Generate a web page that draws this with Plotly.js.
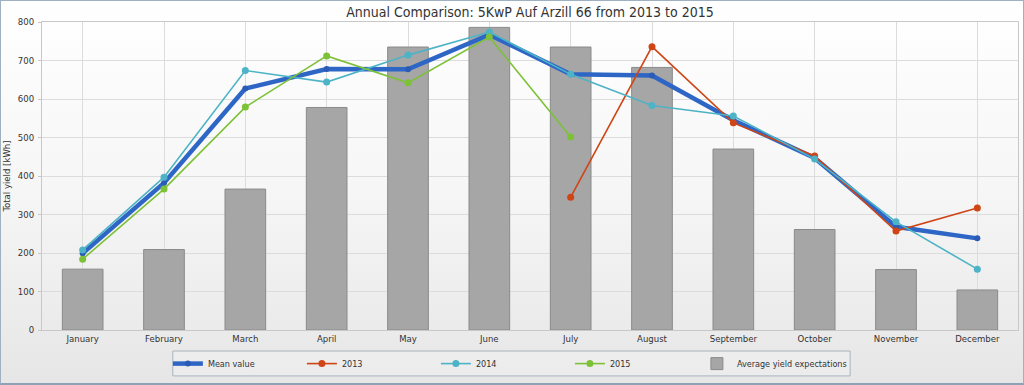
<!DOCTYPE html>
<html>
<head>
<meta charset="utf-8">
<script src="https://cdn.plot.ly/plotly-3.0.1.min.js"></script>
<style>
html,body{margin:0;padding:0;}
#wrap{width:1024px;height:385px;box-sizing:border-box;border:1px solid #9fb0c0;border-bottom:2px solid #8ea2b6;
background:linear-gradient(to bottom,#ffffff 0%,#f6f6f6 50%,#e6e6e6 100%);}
#chart{width:1022px;height:382px;}
</style>
</head>
<body>
<div id="wrap"><div id="chart"></div></div>
<script>
const months = ["January","February","March","April","May","June","July","August","September","October","November","December"];
const expectations = [158,209,366,578,735,786,735,682,470,261,157,104];
const meanValue = [199,382,627,678,677,767,664,661,545,447,268,238];
const y2013 = [null,null,null,null,null,null,345,736,538,452,257,317];
const y2014 = [208,397,674,644,714,774,664,583,556,444,281,158];
const y2015 = [184,366,579,712,642,761,501,null,null,null,null,null];

const font = "'DejaVu Sans Condensed', 'Liberation Sans Narrow', 'DejaVu Sans', sans-serif";

const traces = [
  {type:'scatter', mode:'lines+markers', name:'Mean value', x:months, y:meanValue,
   line:{color:'#2e66c6', width:4.5}, marker:{color:'#2a5bb5', size:6}, legend:'legend'},
  {type:'scatter', mode:'lines+markers', name:'2013', x:months, y:y2013,
   line:{color:'#cf4515', width:1.6}, marker:{color:'#cf4515', size:7}, legend:'legend'},
  {type:'scatter', mode:'lines+markers', name:'2014', x:months, y:y2014,
   line:{color:'#4db3c6', width:1.6}, marker:{color:'#4db3c6', size:7}, legend:'legend'},
  {type:'scatter', mode:'lines+markers', name:'2015', x:months, y:y2015,
   line:{color:'#7dc137', width:1.6}, marker:{color:'#7dc137', size:7}, legend:'legend'},
  {type:'bar', name:'Average yield expectations', x:months, y:expectations,
   marker:{color:'#a6a6a6', line:{color:'#8a8a8a', width:1}}, width:0.5, legend:'legend2'}
];

const legendCommon = {orientation:'h', xanchor:'left', y:-0.062, yanchor:'top', traceorder:'normal',
  bgcolor:'rgba(0,0,0,0)', borderwidth:0, font:{size:9, color:'#333', family:font}, itemwidth:30};

const layout = {
  width:1022, height:382,
  margin:{l:41, r:5, t:21, b:53},
  paper_bgcolor:'rgba(0,0,0,0)',
  plot_bgcolor:'rgba(0,0,0,0)',
  font:{family:font, size:10, color:'#333'},
  title:{text:'Annual Comparison: 5KwP Auf Arzill 66 from 2013 to 2015', xref:'paper', x:0.5, xanchor:'center', y:0.985, yanchor:'top',
         font:{family:font, size:14, color:'#333'}},
  xaxis:{type:'category', range:[-0.5,11.5], showgrid:true, gridcolor:'#dcdcdc', gridwidth:1,
         showline:true, linecolor:'#c8c8c8', mirror:true, ticks:'', tickfont:{size:9.5, color:'#333'}, fixedrange:true},
  yaxis:{range:[0,800], dtick:100, showgrid:true, gridcolor:'#dcdcdc', showline:true, linecolor:'#c8c8c8', mirror:true,
         zeroline:false, tickfont:{size:9.5, color:'#333'}, ticks:'outside', ticklen:3, tickcolor:'#c8c8c8', ticklabelstandoff:2,
         title:{text:'Total yield [kWh]', font:{size:9.5, color:'#333'}, standoff:7}},
  showlegend:true,
  legend:Object.assign({}, legendCommon, {x:0.129, entrywidth:89}),
  legend2:Object.assign({}, legendCommon, {x:0.671}),
  shapes:[{type:'rect', xref:'paper', yref:'paper', x0:0.134, x1:0.828, y0:-0.0682, y1:-0.149,
           line:{color:'#a9b3bd', width:1}, fillcolor:'rgba(240,240,240,0.6)', layer:'below'}],
  bargap:0.5
};

Plotly.newPlot('chart', traces, layout, {displayModeBar:false, staticPlot:true});
</script>
</body>
</html>
